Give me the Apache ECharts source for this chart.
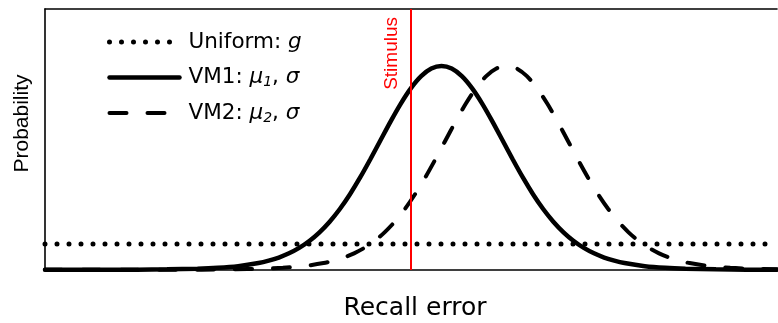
<!DOCTYPE html>
<html>
<head>
<meta charset="utf-8">
<script src="https://cdn.jsdelivr.net/npm/echarts@6/dist/echarts.min.js"></script>
<style>
html,body{margin:0;padding:0;background:#fff;}
#chart{width:778px;height:323px;}
</style>
</head>
<body>
<div id="chart"></div>
<script>
// Recall error (degrees) and relative probability
var vm1X = [-180,-150,-135,-120,-105,-95,-85,-75,-70,-65,-60,-55,-50,-45,-40,-35,-30,-25,-20,-15,-10,-5,0,5,10,15,20,25,30,35,40,45,50,55,60,65,70,75,80,85,90,95,100,105,115,125,135,150,165,180];
var vm1Y = [0.0013,0.0013,0.0018,0.0031,0.0063,0.0107,0.0189,0.0340,0.0457,0.0612,0.0817,0.1082,0.1420,0.1845,0.2366,0.2990,0.3716,0.4535,0.5427,0.6359,0.7286,0.8156,0.8912,0.9500,0.9872,1.0000,0.9872,0.9500,0.8912,0.8156,0.7286,0.6359,0.5427,0.4535,0.3716,0.2990,0.2366,0.1845,0.1420,0.1082,0.0817,0.0612,0.0457,0.0340,0.0189,0.0107,0.0063,0.0031,0.0018,0.0013];
var vm2X = [-180,-118,-103,-88,-73,-63,-53,-43,-38,-33,-28,-23,-18,-13,-8,-3,2,7,12,17,22,27,32,37,42,47,52,57,62,67,72,77,82,87,92,97,102,107,112,117,122,127,132,137,147,157,167,180];
var vm2Y = [0.0012,0.0013,0.0018,0.0031,0.0063,0.0107,0.0189,0.0340,0.0457,0.0612,0.0817,0.1082,0.1420,0.1845,0.2366,0.2990,0.3716,0.4535,0.5427,0.6359,0.7286,0.8156,0.8912,0.9500,0.9872,1.0000,0.9872,0.9500,0.8912,0.8156,0.7286,0.6359,0.5427,0.4535,0.3716,0.2990,0.2366,0.1845,0.1420,0.1082,0.0817,0.0612,0.0457,0.0340,0.0189,0.0107,0.0063,0.0033];
var uniformX = [-180, 180];
var uniformY = [0.127, 0.127];
var stimulusX = 0;
var xRange = [-180, 180];
var yRange = [0, 1.279];
var legendNames = ['Uniform', 'VM1', 'VM2'];

function pairs(xs, ys) { return xs.map(function (x, i) { return [x, ys[i]]; }); }

var FONT = '"Liberation Sans", Arial, Helvetica, sans-serif';
var WIDE = '"DejaVu Sans", "Liberation Sans", Arial, sans-serif';
var HIDDEN = {color: 'rgba(0,0,0,0)', borderWidth: 0};
var chart = echarts.init(document.getElementById('chart'), null, {renderer: 'canvas'});
chart.setOption({
  animation: false,
  backgroundColor: '#fff',
  textStyle: {fontFamily: FONT},
  grid: {left: 45, right: 1, top: 9, bottom: 53, containLabel: false, outerBoundsMode: 'none'},
  legend: {
    data: legendNames,
    orient: 'vertical',
    left: 107,
    top: 30,
    padding: 0,
    itemWidth: 70,
    itemHeight: 14,
    itemGap: 11.5,
    itemStyle: {opacity: 0},
    lineStyle: {width: 'inherit', cap: 'inherit', type: 'inherit', color: 'inherit'},
    textStyle: {
      fontFamily: WIDE, fontSize: 21.5, color: '#000', lineHeight: 24, padding: [0, 0, 0, 4],
      rich: {
        it: {fontFamily: WIDE, fontSize: 21.5, fontStyle: 'italic', color: '#000', lineHeight: 24},
        sub: {fontFamily: WIDE, fontSize: 14, fontStyle: 'italic', color: '#000', lineHeight: 24, verticalAlign: 'bottom', padding: [6, 0, 0, 0]}
      }
    },
    formatter: function (name) {
      if (name === 'Uniform') return 'Uniform: {it|g}';
      if (name === 'VM1') return 'VM1: {it|\u03bc}{sub|1}, {it|\u03c3}';
      return 'VM2: {it|\u03bc}{sub|2}, {it|\u03c3}';
    }
  },
  xAxis: [{
    type: 'value', min: xRange[0], max: xRange[1], position: 'bottom',
    name: 'Recall error', nameLocation: 'middle', nameGap: 26, nameMoveOverlap: false,
    nameTextStyle: {fontFamily: WIDE, fontSize: 25, color: '#000', padding: [0, 0, 0, 8]},
    axisLine: {show: true, onZero: false, lineStyle: {color: '#000', width: 1.6}},
    axisTick: {show: false}, axisLabel: {show: false}, splitLine: {show: false}
  }, {
    type: 'value', min: xRange[0], max: xRange[1], position: 'top',
    axisLine: {show: true, onZero: false, lineStyle: {color: '#000', width: 1.6}},
    axisTick: {show: false}, axisLabel: {show: false}, splitLine: {show: false}
  }],
  yAxis: {
    type: 'value', min: yRange[0], max: yRange[1],
    name: 'Probability', nameLocation: 'middle', nameGap: 12, nameMoveOverlap: false,
    nameTextStyle: {fontFamily: FONT, fontSize: 21, color: '#000', padding: [0, 0, 0, 32]},
    axisLine: {show: true, onZero: false, lineStyle: {color: '#000', width: 1.6}},
    axisTick: {show: false}, axisLabel: {show: false}, splitLine: {show: false}
  },
  series: [{
    name: 'Stimulus', type: 'line', data: [],
    markLine: {
      silent: true, symbol: ['none', 'none'], animation: false,
      lineStyle: {color: '#ff0000', width: 2, type: 'solid'},
      label: {show: true, formatter: 'Stimulus', position: 'insideEndTop', color: '#ff0000',
              fontFamily: FONT, fontSize: 19, distance: [8, 10]},
      data: [{xAxis: stimulusX}]
    }
  }, {
    name: 'Uniform', type: 'line', data: pairs(uniformX, uniformY),
    symbol: 'none', showSymbol: false, itemStyle: HIDDEN,
    lineStyle: {color: '#000', width: 5, type: [0, 12], cap: 'round'}
  }, {
    name: 'VM1', type: 'line', data: pairs(vm1X, vm1Y),
    symbol: 'none', showSymbol: false, smooth: 0.3, itemStyle: HIDDEN,
    lineStyle: {color: '#000', width: 4.5, type: 'solid', cap: 'round'}
  }, {
    name: 'VM2', type: 'line', data: pairs(vm2X, vm2Y),
    symbol: 'none', showSymbol: false, smooth: 0.3, itemStyle: HIDDEN,
    lineStyle: {color: '#000', width: 4, type: [17, 21], cap: 'round'}
  }]
});
</script>
</body>
</html>
